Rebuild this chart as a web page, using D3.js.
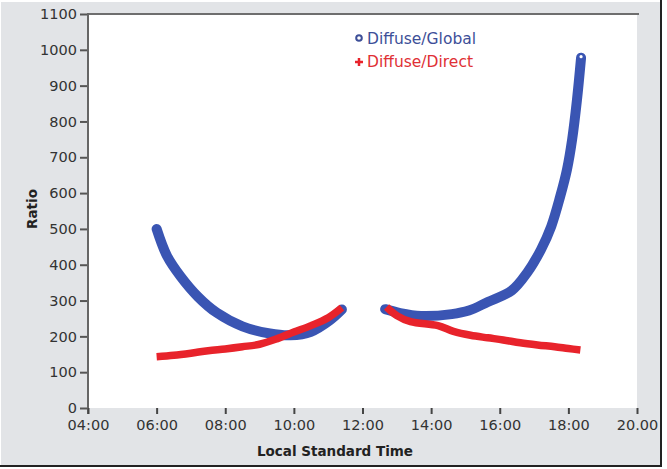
<!DOCTYPE html>
<html>
<head>
<meta charset="utf-8">
<script src="https://cdn.jsdelivr.net/npm/d3@7"></script>
<style>
  html, body { margin: 0; padding: 0; background: #fff; }
  svg { display: block; font-family: "DejaVu Sans", Verdana, sans-serif; }
</style>
</head>
<body>
<script>
// values (time in decimal hours)
const globalAmTimes = [6.0, 6.3, 6.7, 7.2, 7.75, 8.5, 9.3, 9.9, 10.5, 11.05, 11.4]
const globalAm = [500, 425, 367, 311, 266, 228, 208, 203, 213, 245, 275]
const globalPmTimes = [12.66, 13.1, 13.7, 14.6, 15.1, 15.65, 16.35, 16.8, 17.2, 17.5, 17.76, 17.96, 18.11, 18.25, 18.37]
const globalPm = [276, 265, 257, 262, 272, 296, 328, 378, 442, 507, 590, 666, 750, 860, 978]

const directAmTimes = [6.0, 6.5, 7.0, 7.5, 8.0, 8.5, 9.0, 9.5, 10.0, 10.5, 11.0, 11.4]
const directAm = [143, 147, 153, 160, 165, 171, 178, 193, 212, 230, 252, 280]
const directPmTimes = [12.7, 13.0, 13.4, 14.2, 14.65, 15.15, 15.65, 16.1, 16.6, 17.1, 17.6, 18.0, 18.35]
const directPm = [282, 258, 241, 230, 214, 203, 196, 190, 182, 176, 171, 166, 162]

const xTickValues = [4, 6, 8, 10, 12, 14, 16, 18, 20]
const xTickLabels = ["04:00", "06:00", "08:00", "10:00", "12:00", "14:00", "16:00", "18:00", "20.00"]
const yTickValues = [0, 100, 200, 300, 400, 500, 600, 700, 800, 900, 1000, 1100]

const seriesNames = ["Diffuse/Global", "Diffuse/Direct"]
const blue = "#3a55b3"
const red = "#e8232b"

const W = 667, H = 469
const plot = {left: 88, right: 637, top: 14, bottom: 408}

const x = d3.scaleLinear().domain([4, 20]).range([plot.left, plot.right])
const y = d3.scaleLinear().domain([0, 1100]).range([plot.bottom, plot.top])

const svg = d3.select("body").append("svg")
  .attr("width", W)
  .attr("height", H)

// frame
svg.append("rect").attr("x", 1).attr("y", 2).attr("width", 660).attr("height", 464).attr("fill", "#e2e4e7")
svg.append("line").attr("x1", 661).attr("x2", 661).attr("y1", 0).attr("y2", 467).attr("stroke", "#222").attr("stroke-width", 2)
svg.append("line").attr("x1", 0).attr("x2", 662).attr("y1", 466).attr("y2", 466).attr("stroke", "#222").attr("stroke-width", 2)

svg.append("rect")
  .attr("x", plot.left).attr("y", plot.top)
  .attr("width", plot.right - plot.left).attr("height", plot.bottom - plot.top)
  .attr("fill", "#fff")
svg.append("line")
  .attr("x1", plot.left).attr("x2", plot.right + 2)
  .attr("y1", plot.top).attr("y2", plot.top)
  .attr("stroke", "#6e6e6e").attr("stroke-width", 2)

// axes
const yAxis = d3.axisLeft(y).tickValues(yTickValues).tickFormat(d3.format("d")).tickSize(8).tickPadding(3)
const gY = svg.append("g").attr("transform", `translate(${plot.left},0)`).call(yAxis)
gY.attr("font-family", null).attr("font-size", null)
gY.select(".domain").remove()
gY.selectAll(".tick line").attr("stroke", "#555").attr("stroke-width", 2)
gY.selectAll(".tick text").attr("fill", "#333").style("font-size", "14.5px")
svg.append("line")
  .attr("x1", plot.left).attr("x2", plot.left)
  .attr("y1", plot.top - 1).attr("y2", plot.bottom + 6)
  .attr("stroke", "#666").attr("stroke-width", 2)

const xAxis = d3.axisBottom(x).tickValues(xTickValues)
  .tickFormat((d, i) => xTickLabels[i]).tickSize(6).tickPadding(6)
const gX = svg.append("g").attr("transform", `translate(0,${plot.bottom})`).call(xAxis)
gX.attr("font-family", null).attr("font-size", null)
gX.select(".domain").remove()
gX.selectAll(".tick line").attr("stroke", "#444").attr("stroke-width", 2)
gX.selectAll(".tick text").attr("fill", "#333").style("font-size", "14.5px")

svg.append("text")
  .attr("x", 335).attr("y", 456)
  .attr("text-anchor", "middle")
  .style("font-size", "13.5px").style("font-weight", "bold").attr("fill", "#222")
  .text("Local Standard Time")
svg.append("text")
  .attr("transform", "translate(37,209) rotate(-90)")
  .attr("text-anchor", "middle")
  .style("font-size", "13.5px").style("font-weight", "bold").attr("fill", "#222")
  .text("Ratio")

// series
const line = d3.line().x(d => x(d[0])).y(d => y(d[1])).curve(d3.curveCatmullRom.alpha(0.5))
const pair = (ts, vs) => ts.map((t, i) => [t, vs[i]])

const globalSegs = [pair(globalAmTimes, globalAm), pair(globalPmTimes, globalPm)]
const directSegs = [pair(directAmTimes, directAm), pair(directPmTimes, directPm)]

svg.selectAll(".glob").data(globalSegs).enter().append("path")
  .attr("d", line).attr("fill", "none")
  .attr("stroke", blue).attr("stroke-width", 10)
  .attr("stroke-linecap", "round").attr("stroke-linejoin", "round")

svg.selectAll(".dir").data(directSegs).enter().append("path")
  .attr("d", line).attr("fill", "none")
  .attr("stroke", red).attr("stroke-width", 7.5)
  .attr("stroke-linecap", "butt").attr("stroke-linejoin", "round")

// hollow marker visible at the top of the blue curve
const lastG = globalSegs[1][globalSegs[1].length - 1]
svg.append("circle").attr("cx", x(lastG[0])).attr("cy", y(lastG[1]) - 1).attr("r", 1.6).attr("fill", "#fff")

// legend
const legend = svg.append("g").attr("transform", "translate(359,0)")
legend.append("circle").attr("cx", 0).attr("cy", 38).attr("r", 2.8)
  .attr("fill", "none").attr("stroke", "#3d4f98").attr("stroke-width", 2)
legend.append("path").attr("d", "M-4,62H4M0,58V66").attr("stroke", red).attr("stroke-width", 2.5)
legend.append("text").attr("x", 8).attr("y", 44).attr("fill", "#3d4f98")
  .style("font-size", "15.5px").text(seriesNames[0])
legend.append("text").attr("x", 8).attr("y", 67).attr("fill", "#e03035")
  .style("font-size", "15.5px").text(seriesNames[1])
</script>
</body>
</html>
